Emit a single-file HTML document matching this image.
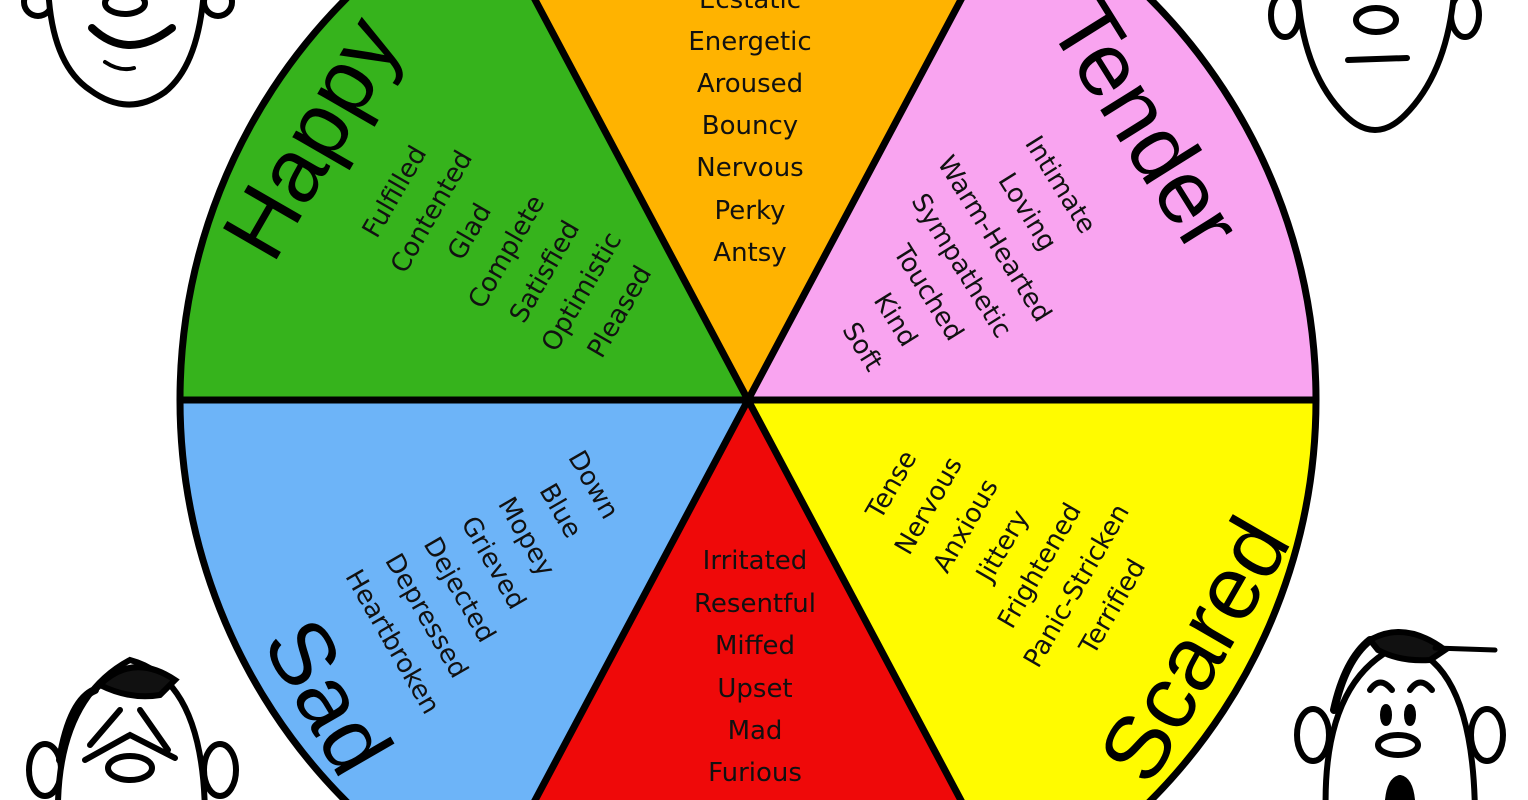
<!DOCTYPE html>
<html><head><meta charset="utf-8"><style>
html,body{margin:0;padding:0;background:#fff;width:1528px;height:800px;overflow:hidden;}
svg{display:block}
.s{font-family:"DejaVu Sans","Liberation Sans",sans-serif;font-size:26px;fill:#111;text-anchor:middle;dominant-baseline:central}
.b{font-family:"Liberation Sans",sans-serif;font-size:90px;fill:#000;text-anchor:middle;dominant-baseline:central}
</style></head><body>
<svg width="1528" height="800" viewBox="0 0 1528 800" xmlns="http://www.w3.org/2000/svg">
<defs><clipPath id="c"><circle cx="748" cy="400" r="568"/></clipPath></defs>
<g clip-path="url(#c)">
<path d="M748,400 L0,400 L0,-800 L109,-800 Z" fill="#36b31c"/>
<path d="M748,400 L109,-800 L1387,-800 Z" fill="#ffb300"/>
<path d="M748,400 L1387,-800 L1528,-800 L1528,400 Z" fill="#f9a4f0"/>
<path d="M748,400 L1528,400 L1528,1600 L1387,1600 Z" fill="#fffb00"/>
<path d="M748,400 L1387,1600 L109,1600 Z" fill="#ef0909"/>
<path d="M748,400 L109,1600 L0,1600 L0,400 Z" fill="#6db4f8"/>
<g stroke="#000" stroke-width="7">
<line x1="170" y1="400" x2="1330" y2="400"/>
<line x1="748" y1="400" x2="482" y2="-100"/>
<line x1="748" y1="400" x2="1014" y2="-100"/>
<line x1="748" y1="400" x2="482" y2="900"/>
<line x1="748" y1="400" x2="1014" y2="900"/>
</g>
</g>
<circle cx="748" cy="400" r="568" fill="none" stroke="#000" stroke-width="7"/>

<text x="750" y="0" class="s">Ecstatic</text>
<text x="750" y="42" class="s">Energetic</text>
<text x="750" y="84" class="s">Aroused</text>
<text x="750" y="126" class="s">Bouncy</text>
<text x="750" y="168" class="s">Nervous</text>
<text x="750" y="211" class="s">Perky</text>
<text x="750" y="253" class="s">Antsy</text>

<text x="755" y="561" class="s">Irritated</text>
<text x="755" y="604" class="s">Resentful</text>
<text x="755" y="646" class="s">Miffed</text>
<text x="755" y="689" class="s">Upset</text>
<text x="755" y="731" class="s">Mad</text>
<text x="755" y="773" class="s">Furious</text>

<text class="b" transform="translate(312,138) rotate(-60)">Happy</text>
<text class="s" transform="translate(395,192) rotate(-60)">Fulfilled</text>
<text class="s" transform="translate(432,212) rotate(-60)">Contented</text>
<text class="s" transform="translate(470,232) rotate(-60)">Glad</text>
<text class="s" transform="translate(507,252) rotate(-60)">Complete</text>
<text class="s" transform="translate(545,272) rotate(-60)">Satisfied</text>
<text class="s" transform="translate(582,292) rotate(-60)">Optimistic</text>
<text class="s" transform="translate(620,312) rotate(-60)">Pleased</text>

<text class="b" transform="translate(1145,125) rotate(58)">Tender</text>
<text class="s" transform="translate(1060,185) rotate(58)">Intimate</text>
<text class="s" transform="translate(1027,212) rotate(58)">Loving</text>
<text class="s" transform="translate(994,239) rotate(58)">Warm-Hearted</text>
<text class="s" transform="translate(961,266) rotate(58)">Sympathetic</text>
<text class="s" transform="translate(928,293) rotate(58)">Touched</text>
<text class="s" transform="translate(895,320) rotate(58)">Kind</text>
<text class="s" transform="translate(862,347) rotate(58)">Soft</text>

<text class="b" transform="translate(327,697) rotate(60)">Sad</text>
<text class="s" transform="translate(593,485) rotate(60)">Down</text>
<text class="s" transform="translate(560,511) rotate(60)">Blue</text>
<text class="s" transform="translate(526,537) rotate(60)">Mopey</text>
<text class="s" transform="translate(493,563) rotate(60)">Grieved</text>
<text class="s" transform="translate(459,590) rotate(60)">Dejected</text>
<text class="s" transform="translate(426,616) rotate(60)">Depressed</text>
<text class="s" transform="translate(392,642) rotate(60)">Heartbroken</text>

<text class="b" transform="translate(1195,650) rotate(-60)">Scared</text>
<text class="s" transform="translate(892,485) rotate(-60)">Tense</text>
<text class="s" transform="translate(929,506) rotate(-60)">Nervous</text>
<text class="s" transform="translate(966,526) rotate(-60)">Anxious</text>
<text class="s" transform="translate(1003,546) rotate(-60)">Jittery</text>
<text class="s" transform="translate(1040,566) rotate(-60)">Frightened</text>
<text class="s" transform="translate(1077,586) rotate(-60)">Panic-Stricken</text>
<text class="s" transform="translate(1113,607) rotate(-60)">Terrified</text>

<g fill="none" stroke="#000" stroke-width="6" stroke-linecap="round">
<ellipse cx="38" cy="2" rx="14" ry="14" fill="#fff"/>
<ellipse cx="218" cy="2" rx="14" ry="14" fill="#fff"/>
<path d="M48,-40 Q45,60 90,90 Q128,118 165,92 Q205,60 205,-40" fill="#fff"/>
<ellipse cx="125" cy="3" rx="20" ry="11"/>
<path d="M92,28 Q128,62 172,28" stroke-width="8"/>
<path d="M105,62 Q120,72 134,68" stroke-width="4"/>
<ellipse cx="1285" cy="15" rx="14" ry="22" fill="#fff"/>
<ellipse cx="1465" cy="15" rx="14" ry="22" fill="#fff"/>
<path d="M1297,-20 Q1300,70 1345,115 Q1375,145 1405,115 Q1450,70 1455,-20" fill="#fff"/>
<ellipse cx="1376" cy="20" rx="20" ry="12"/>
<line x1="1348" y1="60" x2="1407" y2="58"/>
<ellipse cx="45" cy="770" rx="16" ry="26" fill="#fff"/>
<ellipse cx="220" cy="770" rx="16" ry="26" fill="#fff"/>
<path d="M58,820 Q55,700 130,660 Q205,680 205,820" fill="#fff"/>
<path d="M95,690 Q130,650 175,680 L160,695 Q130,700 100,685 Z" fill="#111"/>
<path d="M60,760 Q70,700 95,690" stroke-width="8"/>
<line x1="90" y1="745" x2="120" y2="710"/>
<line x1="140" y1="710" x2="168" y2="750"/>
<path d="M85,760 L130,735 L175,758"/>
<ellipse cx="130" cy="768" rx="22" ry="12"/>
<ellipse cx="1313" cy="735" rx="16" ry="26" fill="#fff"/>
<ellipse cx="1487" cy="735" rx="16" ry="26" fill="#fff"/>
<path d="M1326,820 Q1320,680 1400,645 Q1475,660 1475,820" fill="#fff"/>
<path d="M1370,640 Q1405,620 1445,650 L1430,660 Q1400,662 1378,650 Z" fill="#111"/>
<path d="M1334,710 Q1345,660 1370,640" stroke-width="8"/>
<path d="M1435,648 L1495,650" stroke-width="5"/>
<path d="M1370,690 Q1380,675 1392,690"/>
<path d="M1410,690 Q1420,675 1432,690"/>
<ellipse cx="1386" cy="715" rx="3" ry="8" fill="#000"/>
<ellipse cx="1410" cy="715" rx="3" ry="8" fill="#000"/>
<ellipse cx="1398" cy="745" rx="20" ry="10"/>
<path d="M1388,800 Q1390,780 1400,778 Q1410,780 1412,800 Z" fill="#000"/>
</g>
</svg>
</body></html>
